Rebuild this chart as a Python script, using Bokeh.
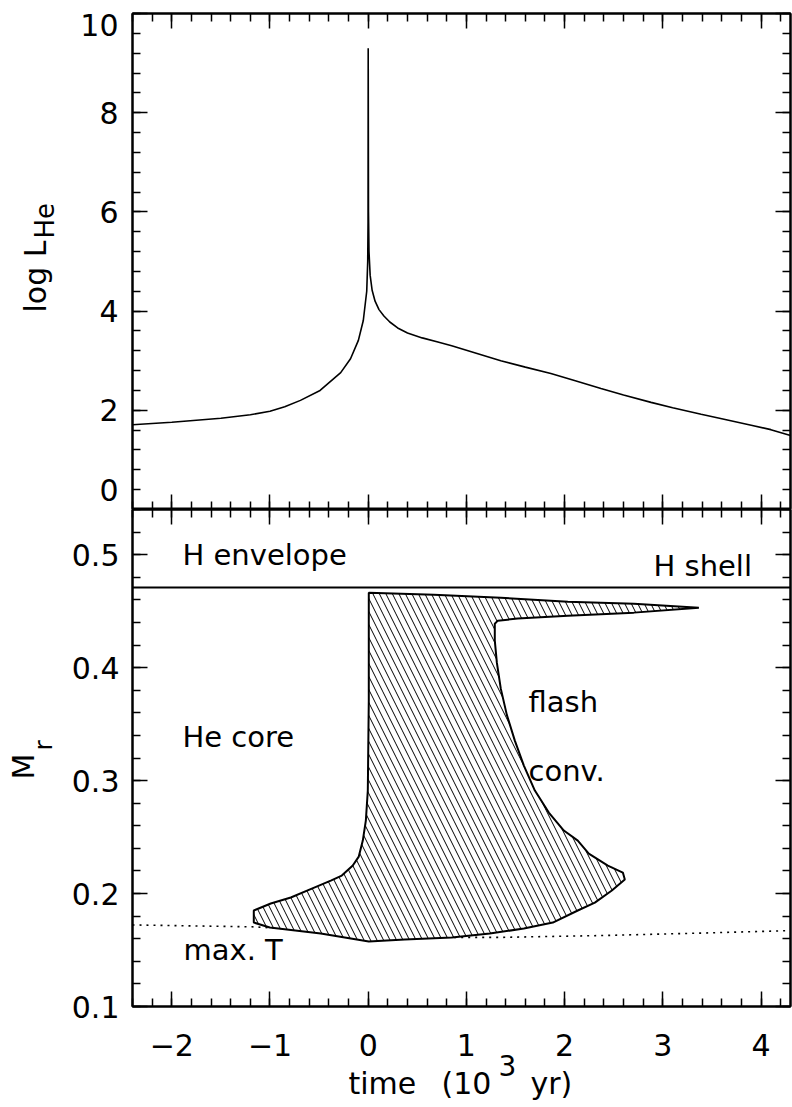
import numpy as np
from bokeh.plotting import figure
from bokeh.models import Range1d, LinearAxis, FixedTicker, Span
from bokeh.layouts import column, row
from bokeh.embed import file_html
from bokeh.resources import INLINE
from bokeh.core.properties import value

# ---------------- data ----------------
# top panel: helium-burning luminosity
lum_time = [-2.40, -2.00, -1.50, -1.20, -1.00, -0.85, -0.69, -0.49, -0.28, -0.18, -0.10, -0.05,
            -0.015, -0.005, -0.0015, 0.000, 0.003, 0.008, 0.020, 0.040, 0.070, 0.11,
            0.16, 0.22, 0.30, 0.40, 0.55, 0.70, 0.85, 1.10, 1.35, 1.60,
            1.86, 2.10, 2.37, 2.60, 2.88, 3.10, 3.39, 3.60, 3.90, 4.10, 4.30]
lum_logL = [1.71, 1.76, 1.84, 1.91, 1.98, 2.07, 2.20, 2.40, 2.76, 3.04, 3.41, 3.81,
            4.40, 5.00, 5.80, 9.30, 6.00, 5.20, 4.72, 4.42, 4.20, 4.03,
            3.90, 3.78, 3.66, 3.56, 3.46, 3.38, 3.30, 3.15, 3.00, 2.87,
            2.74, 2.60, 2.44, 2.31, 2.16, 2.05, 1.92, 1.83, 1.70, 1.61, 1.49]

# bottom panel: flash-driven convective zone (outline)
conv_time = [0.006, 0.668, 1.350, 2.033, 2.705, 3.367, 2.705, 2.033, 1.523, 1.320,
             1.289, 1.289, 1.310, 1.350, 1.411, 1.493, 1.585, 1.697, 1.839, 1.992,
             2.134, 2.246, 2.440, 2.593, 2.613, 2.481, 2.308, 2.134, 1.880, 1.585,
             1.238, 0.851, 0.373, 0.006, -0.483, -1.002, -1.165, -1.165, -0.992, -0.788,
             -0.574, -0.381, -0.269, -0.157, -0.096, -0.055, -0.024, -0.004, 0.006]
conv_mass = [0.4664, 0.4646, 0.4619, 0.4584, 0.4566, 0.4531, 0.4487, 0.4460, 0.4434, 0.4416,
             0.4389, 0.4239, 0.4044, 0.3814, 0.3584, 0.3354, 0.3133, 0.2912, 0.2717, 0.2558,
             0.2469, 0.2354, 0.2248, 0.2186, 0.2124, 0.2027, 0.1920, 0.1850, 0.1743, 0.1690,
             0.1646, 0.1611, 0.1593, 0.1575, 0.1646, 0.1699, 0.1743, 0.1850, 0.1912, 0.1965,
             0.2044, 0.2115, 0.2159, 0.2248, 0.2327, 0.2469, 0.2646, 0.2912, 0.3708]

# location of maximum temperature
maxT_time = [-2.40, -1.16, -0.20, 0.40, 0.85, 1.35, 2.37, 3.39, 4.30]
maxT_mass = [0.1722, 0.1705, 0.1660, 0.1625, 0.1612, 0.1612, 0.1628, 0.1650, 0.1672]

# hydrogen-burning shell
h_shell_mass = 0.471

# ticks / labels
x_ticks = [-2, -1, 0, 1, 2, 3, 4]
x_tick_labels = ["\u22122", "\u22121", "0", "1", "2", "3", "4"]
top_ticks = [0, 2, 4, 6, 8, 10]
top_tick_labels = ["0", "2", "4", "6", "8", "10"]
bot_ticks = [0.1, 0.2, 0.3, 0.4, 0.5]
bot_tick_labels = ["0.1", "0.2", "0.3", "0.4", "0.5"]

# ---------------- layout constants ----------------
W, H = 792, 1107
X0, X1 = -2.4, 4.3
TOP_Y = (0.0, 10.0)
BOT_Y = (0.1, 0.54)
LEFT = 132
FRAME_W = 658
TOP_FH = 496
BOT_FH = 497
FRAME_TOP = 13
MID = FRAME_TOP + TOP_FH
BOTTOM = MID + BOT_FH
BOT_PAD = 19          # room under the bottom frame for the lowest y tick label
STRIP_TOP_W = 128     # holds top-panel tick labels and title
STRIP_BOT_W = 60      # holds bottom-panel title
FONT = "DejaVu Sans"
TICK_FS = "30px"
TXT_FS = "29px"

x_minor = [round(v, 2) for v in np.arange(-2.4, 4.31, 0.2)]
top_minor = [round(v, 2) for v in np.arange(0, 10.01, 0.4)]
bot_minor = [round(v, 3) for v in np.arange(0.1, 0.541, 0.02)]


def style_plain(p):
    p.background_fill_color = "white"
    p.border_fill_color = "white"
    p.grid.visible = False


def make_fig(yr, fh, left, top_b, bottom_b):
    p = figure(frame_width=FRAME_W, frame_height=fh,
               x_range=Range1d(X0, X1), y_range=Range1d(*yr),
               output_backend="svg", toolbar_location=None,
               x_axis_location=None, y_axis_location=None,
               min_border_left=left, min_border_right=2,
               min_border_top=top_b, min_border_bottom=bottom_b)
    p.outline_line_color = "black"
    p.outline_line_width = 2
    style_plain(p)
    return p


def add_axis(p, side, ticks, minor, labels=None, standoff=0):
    ax = LinearAxis(ticker=FixedTicker(ticks=ticks, minor_ticks=minor))
    ax.axis_line_color = "black"
    ax.axis_line_width = 2
    ax.major_tick_in = 15
    ax.major_tick_out = 0
    ax.minor_tick_in = 8
    ax.minor_tick_out = 0
    ax.major_tick_line_color = "black"
    ax.minor_tick_line_color = "black"
    ax.major_tick_line_width = 1.5
    ax.minor_tick_line_width = 1.5
    if labels is None:
        ax.major_label_text_color = None
        ax.major_label_standoff = 0
    else:
        ax.major_label_overrides = {t: l for t, l in zip(ticks, labels)}
        ax.major_label_text_font = FONT
        ax.major_label_text_font_size = TICK_FS
        ax.major_label_text_color = "black"
        ax.major_label_standoff = standoff
    p.add_layout(ax, side)
    return ax


def make_strip(x_range, y_range, width=None, height=None, frame_w=None, frame_h=None,
               left=0, right=0, top_b=0, bottom_b=0):
    kw = dict(x_range=x_range, y_range=y_range,
              output_backend="svg", toolbar_location=None,
              x_axis_location=None, y_axis_location=None,
              min_border_left=left, min_border_right=right,
              min_border_top=top_b, min_border_bottom=bottom_b)
    if frame_w is None:
        kw["width"] = width
    else:
        kw["frame_width"] = frame_w
    if frame_h is None:
        kw["height"] = height
    else:
        kw["frame_height"] = frame_h
    s = figure(**kw)
    s.outline_line_color = None
    style_plain(s)
    return s


def put_text(p, xs, ys, texts, size=TXT_FS, align="left", angle=0.0, y_offset=0):
    p.text(x=xs, y=ys, text=texts, angle=angle, y_offset=y_offset,
           text_align=align, text_baseline="middle",
           text_font=value(FONT), text_font_size=value(size), text_color="black")


def px_x(px):
    return X0 + (px - LEFT) * (X1 - X0) / FRAME_W


def py_top(py):
    return TOP_Y[1] - (py - FRAME_TOP) * (TOP_Y[1] - TOP_Y[0]) / TOP_FH


def py_bot(py):
    return BOT_Y[0] + (BOTTOM - py) * (BOT_Y[1] - BOT_Y[0]) / BOT_FH


# ---------------- top panel ----------------
top = make_fig(TOP_Y, TOP_FH, LEFT - STRIP_TOP_W, FRAME_TOP, 0)
add_axis(top, "left", top_ticks, top_minor)
add_axis(top, "right", top_ticks, top_minor)
add_axis(top, "above", x_ticks, x_minor)
add_axis(top, "below", x_ticks, x_minor)
top.line(lum_time, lum_logL, line_color="black", line_width=1.6)

# strip left of the top panel: tick labels (through the shared y scale) and axis title
strip_top = make_strip(Range1d(0, STRIP_TOP_W), top.y_range, width=STRIP_TOP_W,
                       frame_h=TOP_FH, top_b=FRAME_TOP)
end_shift = {0: -20, 10: 11}
put_text(strip_top, [STRIP_TOP_W - 10] * len(top_ticks), top_ticks, top_tick_labels,
         size=TICK_FS, align="right", y_offset=[end_shift.get(t, 0) for t in top_ticks])
put_text(strip_top, [35], [py_top(240)], ["log L"], size="30px", align="right", angle=np.pi / 2)
put_text(strip_top, [44], [py_top(238)], ["He"], size="26px", align="left", angle=np.pi / 2)

# ---------------- bottom panel ----------------
bot = make_fig(BOT_Y, BOT_FH, LEFT - STRIP_BOT_W, 0, BOT_PAD)
add_axis(bot, "left", bot_ticks, bot_minor, bot_tick_labels, standoff=13)
add_axis(bot, "right", bot_ticks, bot_minor)
add_axis(bot, "above", x_ticks, x_minor)
add_axis(bot, "below", x_ticks, x_minor)

bot.line(maxT_time, maxT_mass, line_color="black", line_width=1.6, line_dash="2 5")
bot.patch(conv_time, conv_mass, fill_color="white", line_color="black", line_width=2,
          hatch_pattern="\\", hatch_color="black", hatch_scale=13, hatch_weight=1)
bot.add_layout(Span(location=h_shell_mass, dimension="width", line_color="black", line_width=2))

put_text(bot, [px_x(182)], [py_bot(554)], ["H envelope"])
put_text(bot, [px_x(653)], [py_bot(565)], ["H shell"])
put_text(bot, [px_x(182)], [py_bot(736)], ["He core"])
put_text(bot, [px_x(528)], [py_bot(701)], ["flash"])
put_text(bot, [px_x(528)], [py_bot(770)], ["conv."])
put_text(bot, [px_x(183)], [py_bot(949)], ["max. T"])

# strip left of the bottom panel: axis title M_r
strip_bot = make_strip(Range1d(0, STRIP_BOT_W), bot.y_range, width=STRIP_BOT_W,
                       frame_h=BOT_FH, top_b=0, bottom_b=BOT_PAD)
put_text(strip_bot, [23], [py_bot(779)], ["M"], size="30px", align="left", angle=np.pi / 2)
put_text(strip_bot, [43], [py_bot(750)], ["r"], size="25px", align="left", angle=np.pi / 2)

# strip below the bottom panel: x tick labels (through the shared x scale) and title
XS_TOP = BOTTOM + BOT_PAD
XS_H = H - XS_TOP
strip_x = make_strip(bot.x_range, Range1d(XS_H, 0), frame_w=FRAME_W, height=XS_H,
                     left=LEFT, right=2)
put_text(strip_x, x_ticks, [1044 - XS_TOP] * len(x_ticks), x_tick_labels,
         size=TICK_FS, align="center")
put_text(strip_x, [px_x(348), px_x(441), px_x(530)], [1083 - XS_TOP] * 3,
         ["time", "(10", "yr)"], size="30px")
put_text(strip_x, [px_x(498)], [1065 - XS_TOP], ["3"], size="28px")

layout = column(row(strip_top, top, spacing=0), row(strip_bot, bot, spacing=0), strip_x, spacing=0)
open("out.html", "w").write(file_html(layout, INLINE))
